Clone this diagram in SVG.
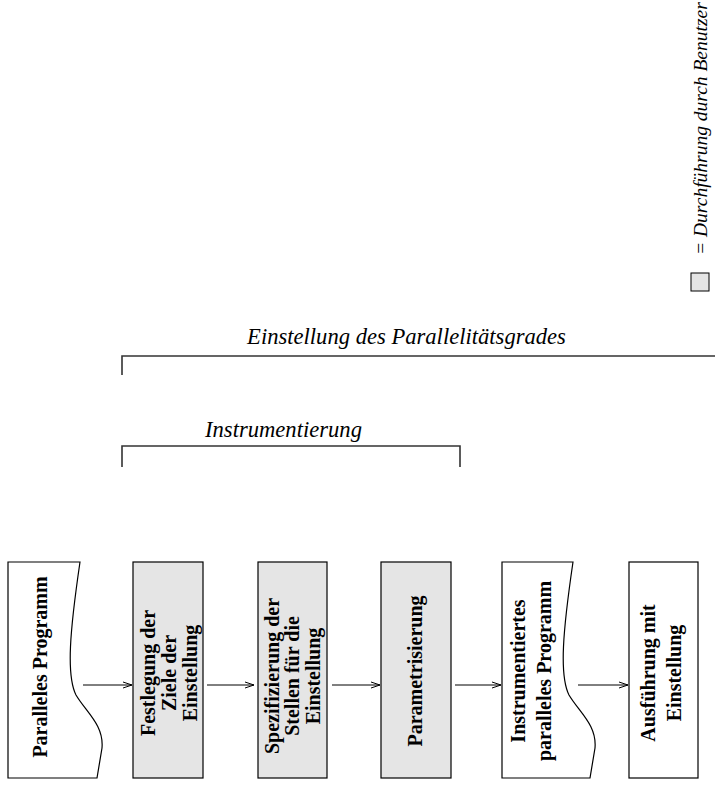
<svg xmlns="http://www.w3.org/2000/svg" width="715" height="787" viewBox="0 0 715 787">
<style>
.box{stroke:#000;stroke-width:1.2;fill:#fff}
.user{fill:#e5e5e5}
.bt{font-family:"Liberation Serif","Times New Roman",serif;font-weight:bold;font-size:20px;fill:#000;text-anchor:middle}
.it{font-family:"Liberation Serif","Times New Roman",serif;font-style:italic;fill:#000}
.conn{stroke:#000;stroke-width:1;fill:none}
.br{stroke:#333;stroke-width:1.6;fill:none}
</style>
<defs>
<marker id="arr" markerWidth="12" markerHeight="10" refX="10" refY="5" orient="auto" markerUnits="userSpaceOnUse">
<path d="M1,2 L10,5 L1,8" fill="none" stroke="#000" stroke-width="1"/>
</marker>
</defs>

<g id="legend">
<rect x="691" y="273" width="18" height="18" fill="#e5e5e5" stroke="#000" stroke-width="1"/>
<text class="it" font-size="19.5" transform="translate(707,255) rotate(-90)">= Durchführung durch Benutzer</text>
</g>

<g id="bracket-einstellung">
<path class="br" d="M122,375 V356 H715"/>
<text class="it" font-size="22.6" x="406.5" y="344" text-anchor="middle">Einstellung des Parallelitätsgrades</text>
</g>

<g id="bracket-instrumentierung">
<path class="br" d="M122,467 V446 H460 V467"/>
<text class="it" font-size="22.6" x="283.5" y="437" text-anchor="middle">Instrumentierung</text>
</g>

<g id="n1">
<path class="box" d="M8,562 H80 C70,630 66,675 76,695 C86,712 104,725 102,748 L97,778 H8 Z"/>
<text class="bt" transform="translate(46.5,667) rotate(-90)">Paralleles Programm</text>
</g>

<g id="n2">
<rect class="box user" x="133" y="562" width="70" height="216"/>
<text class="bt" transform="translate(155,673) rotate(-90)">Festlegung der</text>
<text class="bt" transform="translate(176,673) rotate(-90)">Ziele der</text>
<text class="bt" transform="translate(197,673) rotate(-90)">Einstellung</text>
</g>

<g id="n3">
<rect class="box user" x="258" y="562" width="69" height="216"/>
<text class="bt" transform="translate(278.5,676) rotate(-90)">Spezifizierung der</text>
<text class="bt" transform="translate(299,676) rotate(-90)">Stellen für die</text>
<text class="bt" transform="translate(319.5,676) rotate(-90)">Einstellung</text>
</g>

<g id="n4">
<rect class="box user" x="381" y="562" width="70" height="216"/>
<text class="bt" transform="translate(422,671) rotate(-90)">Parametrisierung</text>
</g>

<g id="n5">
<path class="box" d="M502,562 H573 C563,630 559,675 569,695 C579,712 597,725 595,748 L590,778 H502 Z"/>
<text class="bt" transform="translate(525,671) rotate(-90)">Instrumentiertes</text>
<text class="bt" transform="translate(551,671) rotate(-90)">paralleles Programm</text>
</g>

<g id="n6">
<rect class="box" x="629" y="562" width="69" height="216"/>
<text class="bt" transform="translate(655,673) rotate(-90)">Ausführung mit</text>
<text class="bt" transform="translate(681,673) rotate(-90)">Einstellung</text>
</g>

<g id="connectors">
<line class="conn" x1="83" y1="685" x2="132" y2="685" marker-end="url(#arr)"/>
<line class="conn" x1="207" y1="685" x2="254" y2="685" marker-end="url(#arr)"/>
<line class="conn" x1="332" y1="685" x2="380" y2="685" marker-end="url(#arr)"/>
<line class="conn" x1="455" y1="685" x2="501" y2="685" marker-end="url(#arr)"/>
<line class="conn" x1="578" y1="685" x2="628" y2="685" marker-end="url(#arr)"/>
</g>
</svg>
